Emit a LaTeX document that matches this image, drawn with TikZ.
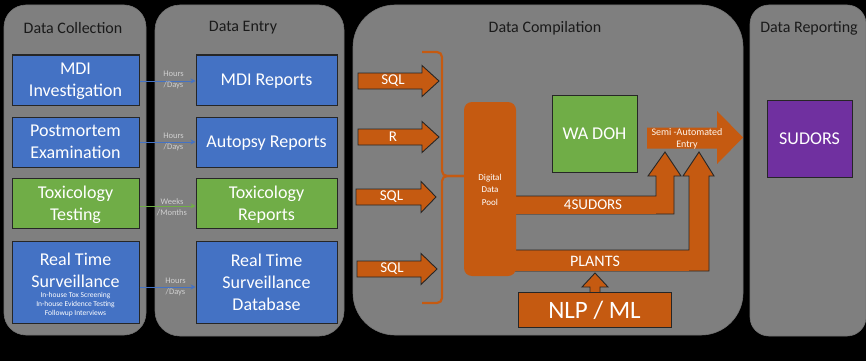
\documentclass[tikz,border=0pt]{standalone}
\usepackage{fontspec}
\setmainfont{Carlito}
\usetikzlibrary{arrows.meta}
\definecolor{pgray}{HTML}{7F7F7F}
\definecolor{mblue}{HTML}{4472C4}
\definecolor{mgreen}{HTML}{70AD47}
\definecolor{morange}{HTML}{C55A11}
\definecolor{mpurple}{HTML}{7030A0}
\definecolor{edgec}{HTML}{262626}
\definecolor{lblc}{HTML}{D0D0D0}
\definecolor{headc}{HTML}{1A1A1A}
\newcommand\myharrow[5]{%
  \draw[oarrow] (#1,#4-8) -- (#2,#4-8) -- (#2,#4-15.5) -- (#3,#4) -- (#2,#4+15.5) -- (#2,#4+8) -- (#1,#4+8) -- cycle;
  \node[atext] at ({(#1+#2)/2+3},#4) {#5};}
\begin{document}
\begin{tikzpicture}[x=1pt,y=-1pt,
  panel/.style={fill=pgray,draw=black!55,line width=0.6pt},
  headtxt/.style={font=\fontsize{16}{19}\selectfont,text=headc,inner sep=0pt},
  box/.style={draw=edgec,line width=1pt,text=white,align=center,inner sep=0pt,
              text depth=0pt,font=\fontsize{18}{22}\selectfont},
  bluebox/.style={box,fill=mblue},
  greenbox/.style={box,fill=mgreen},
  lefts/.style={minimum width=127pt},
  rights/.style={minimum width=141pt},
  conlbl/.style={font=\fontsize{8.5}{11}\selectfont,text=lblc,align=center,inner sep=0pt},
  bconn/.style={draw=mblue,line width=0.8pt,-{Stealth[length=5pt,width=5pt]}},
  gconn/.style={draw=mgreen,line width=0.8pt,-{Stealth[length=5pt,width=5pt]}},
  oarrow/.style={fill=morange,draw=edgec,line width=0.9pt},
  atext/.style={font=\fontsize{15}{18}\selectfont,text=white,inner sep=0pt},
  bracestyle/.style={draw=morange,line width=2.2pt,rounded corners=5pt},
  wtext/.style={text=white,align=center,inner sep=0pt}
]
\fill[black] (0,0) rectangle (866,361);
\useasboundingbox (0,0) rectangle (866,361);

% panels
\draw[panel,rounded corners=22pt] (4,5) rectangle (146,335);
\draw[panel,rounded corners=25pt] (155,5) rectangle (344,336);
\draw[panel,rounded corners=42pt] (353,5) rectangle (743,335);
\draw[panel,rounded corners=19pt] (750,5) rectangle (866,336);

\node[headtxt] (h1) at (73,28) {Data Collection};
\node[headtxt] (h2) at (243,28) {Data Entry};
\node[headtxt] (h3) at (545,28) {Data Compilation};
\node[headtxt] (h4) at (809,28) {Data Reporting};

% data collection
\node[bluebox,lefts,minimum height=50pt] (mdi) at (75.5,80) {MDI\\Investigation};
\node[bluebox,lefts,minimum height=50pt] (pm) at (75.5,142) {Postmortem\\Examination};
\node[greenbox,lefts,minimum height=50pt] (tox) at (75.5,203) {Toxicology\\Testing};
\node[bluebox,lefts,minimum height=82pt] (rts) at (75.5,282) {};
\node[wtext,font=\fontsize{18}{22}\selectfont] (rtst) at (75.5,270.5) {Real Time\\Surveillance};
\node[wtext,font=\fontsize{7.5}{9}\selectfont] (rtss) at (75.5,304.5) {In-house Tox Screening\\In-house Evidence Testing\\Followup Interviews};

% data entry
\node[bluebox,rights,minimum height=50pt] (mdir) at (266.5,80) {MDI Reports};
\node[bluebox,rights,minimum height=50pt] (apr) at (266.5,142) {Autopsy Reports};
\node[greenbox,rights,minimum height=50pt] (toxr) at (266.5,203) {Toxicology\\Reports};
\node[bluebox,rights,minimum height=82pt] (rtsd) at (266.5,282) {Real Time\\Surveillance\\Database};

% connectors
\draw[bconn] (mdi.east |- 0,81) -- (mdir.west |- 0,81);
\draw[bconn] (pm.east |- 0,142) -- (apr.west |- 0,142);
\draw[gconn] (tox.east |- 0,206) -- (toxr.west |- 0,206);
\draw[bconn] (rts.east |- 0,287) -- (rtsd.west |- 0,287);
\node[conlbl] (l1) at (173.5,80) {Hours\\/Days};
\node[conlbl] (l2) at (173.5,142) {Hours\\/Days};
\node[conlbl] (l3) at (172,207) {Weeks\\/Months};
\node[conlbl] (l4) at (175.5,287) {Hours\\/Days};

% input arrows
\myharrow{358}{422}{439}{81}{SQL}
\myharrow{358}{422}{439}{137}{R}
\myharrow{356}{421}{436}{197}{SQL}
\myharrow{357}{421}{437}{269}{SQL}

% brace
\draw[bracestyle] (422,52) -- (442,52) -- (442,176) -- (464,176);
\draw[bracestyle] (422,303) -- (442,303) -- (442,176) -- (464,176);

% elbow arrows
\draw[oarrow] (500,214) -- (674,214) -- (674,176) -- (681,176) -- (665,152) -- (648,176) -- (656,176) -- (656,196) -- (500,196);
\fill[morange] (500,196.5) rectangle (655.5,213.5);
\draw[oarrow] (500,271) -- (709,271) -- (709,176) -- (714,176) -- (699,152) -- (683,176) -- (689,176) -- (689,250) -- (500,250);
\fill[morange] (500,250.5) rectangle (688.5,270.5);
\node[atext] (s4) at (593,205) {4SUDORS};
\node[atext,font=\fontsize{16}{19}\selectfont] (plants) at (595,261) {PLANTS};

% pool
\node[fill=morange,rounded corners=8pt,minimum width=52pt,minimum height=174pt,inner sep=0pt] (pool) at (490,189) {};
\node[wtext,font=\fontsize{9}{12.5}\selectfont] (poolt) at (490,189.5) {Digital\\Data\\Pool};

% WA DOH
\node[greenbox,minimum width=85pt,minimum height=77pt] (wadoh) at (594.5,133.5) {WA DOH};

% semi-automated arrow
\fill[morange] (647,127.5) -- (717,127.5) -- (717,111) -- (743,137.5) -- (717,164) -- (717,148.5) -- (647,148.5) -- cycle;
\node[wtext,font=\fontsize{10}{12}\selectfont,text=white!92!orange] (semi) at (687,138.5) {Semi -Automated\\Entry};

% NLP / ML
\draw[oarrow] (590,293) -- (590,287) -- (582,287) -- (595,273) -- (608,287) -- (600,287) -- (600,293);
\node[box,fill=morange,minimum width=153pt,minimum height=35pt,font=\fontsize{25}{30}\selectfont] (nlp) at (594.5,309.5) {NLP / ML};

% SUDORS
\node[box,fill=mpurple,minimum width=85pt,minimum height=77pt] (sudors) at (809.5,138.5) {SUDORS};
\end{tikzpicture}
\end{document}
